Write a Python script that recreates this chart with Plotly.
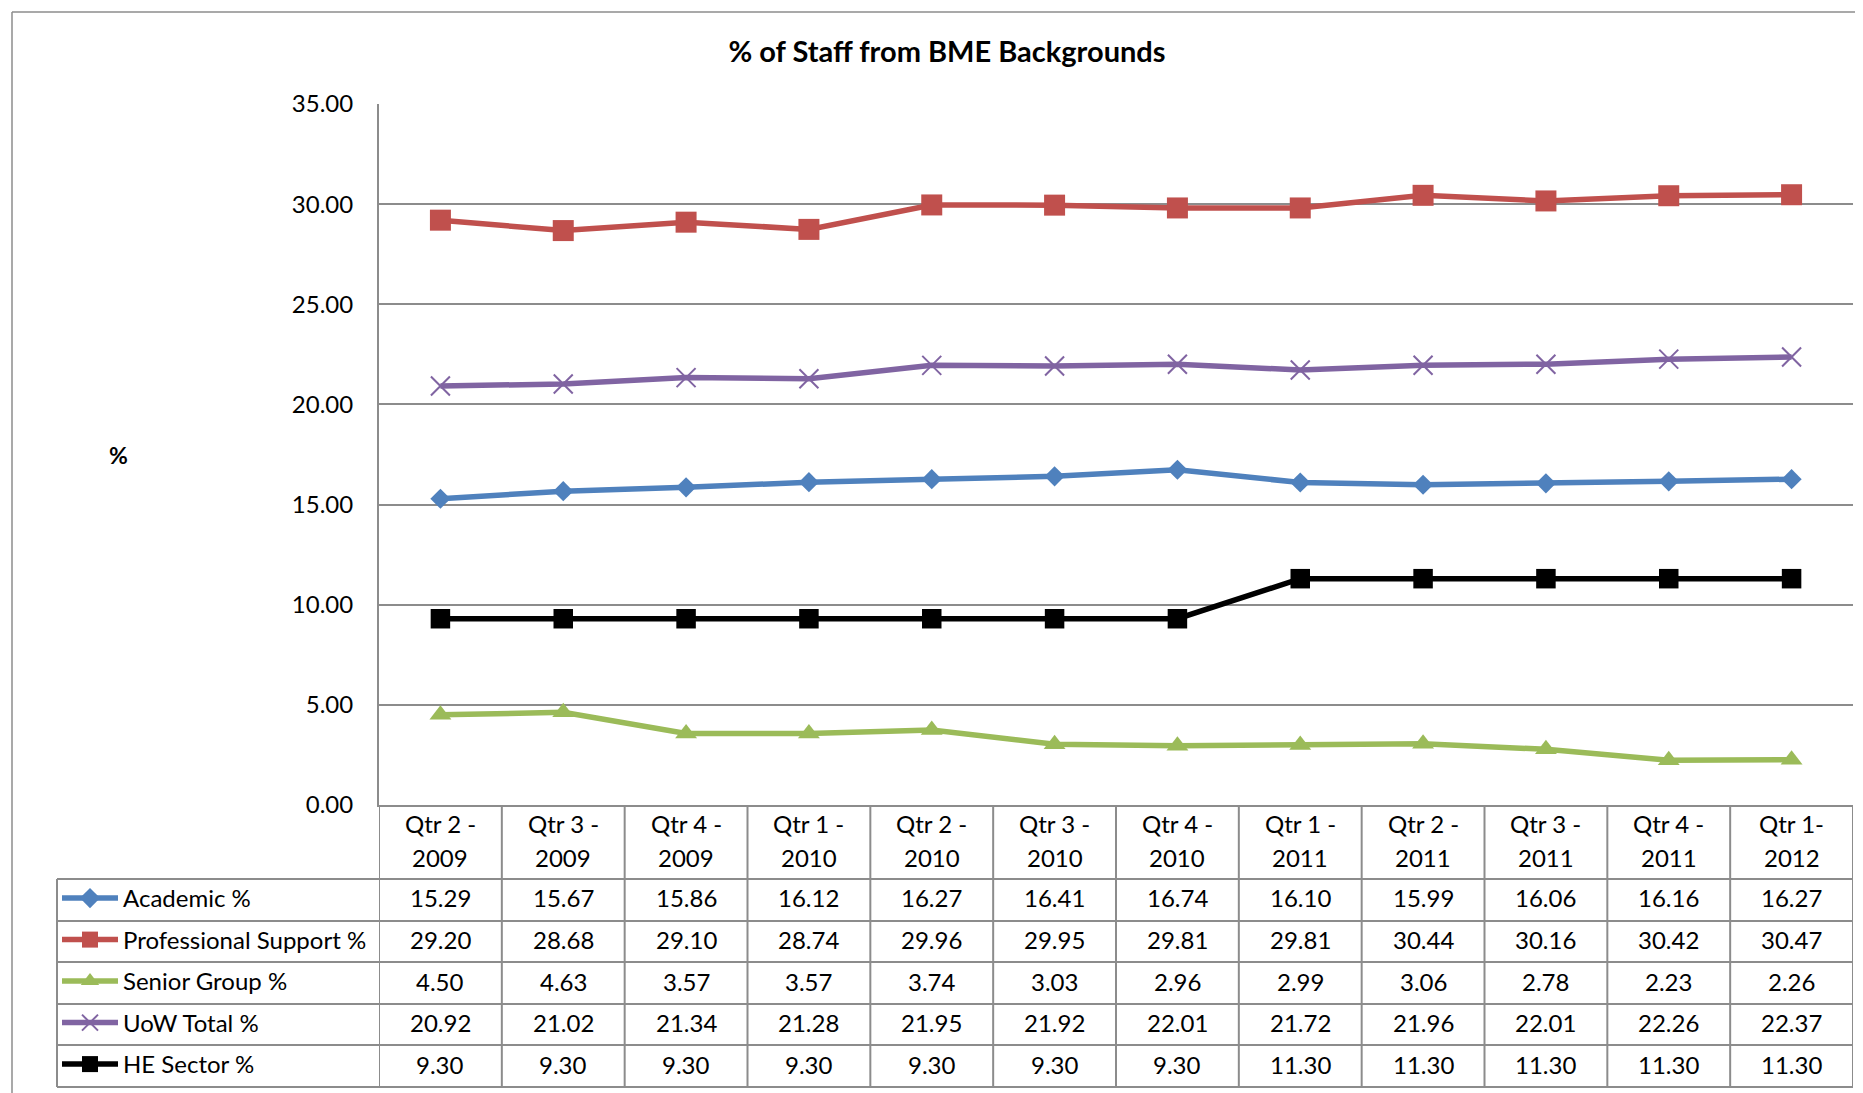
import plotly.graph_objects as go

quarters = ["Qtr 2 -", "Qtr 3 -", "Qtr 4 -", "Qtr 1 -", "Qtr 2 -", "Qtr 3 -",
            "Qtr 4 -", "Qtr 1 -", "Qtr 2 -", "Qtr 3 -", "Qtr 4 -", "Qtr 1-"]
years = ["2009", "2009", "2009", "2010", "2010", "2010",
         "2010", "2011", "2011", "2011", "2011", "2012"]
categories = [f"{q} {y}" for q, y in zip(quarters, years)]

academic = [15.29, 15.67, 15.86, 16.12, 16.27, 16.41, 16.74, 16.10, 15.99, 16.06, 16.16, 16.27]
prof_support = [29.20, 28.68, 29.10, 28.74, 29.96, 29.95, 29.81, 29.81, 30.44, 30.16, 30.42, 30.47]
senior_group = [4.50, 4.63, 3.57, 3.57, 3.74, 3.03, 2.96, 2.99, 3.06, 2.78, 2.23, 2.26]
uow_total = [20.92, 21.02, 21.34, 21.28, 21.95, 21.92, 22.01, 21.72, 21.96, 22.01, 22.26, 22.37]
he_sector = [9.30, 9.30, 9.30, 9.30, 9.30, 9.30, 9.30, 11.30, 11.30, 11.30, 11.30, 11.30]

series_names = ["Academic %", "Professional Support %", "Senior Group %", "UoW Total %", "HE Sector %"]
series_values = [academic, prof_support, senior_group, uow_total, he_sector]

# Styling
STYLE = {
    "Academic %": dict(color="#4F81BD", symbol="diamond", size=15.5),
    "Professional Support %": dict(color="#C0504D", symbol="square", size=21),
    "Senior Group %": dict(color="#9BBB59", symbol="triangle-up", size=19),
    "UoW Total %": dict(color="#8064A2", symbol="x-thin", size=19),
    "HE Sector %": dict(color="#000000", symbol="square", size=19.5),
}
FONT = "Lato, 'Open Sans', sans-serif"
FS = 24
GRID = "#8C8C8C"

# Page geometry (pixels in the screenshot; the page body adds an 8px offset)
OFF = 8
W, H = 1863 - OFF, 1093 - OFF
L, R, T, B = 379 - OFF, 1853 - OFF, 104 - OFF, 805 - OFF
TABLE_LEFT = 57 - OFF
ROW_EDGES = [e - OFF for e in [879, 921, 962, 1004, 1045, 1087]]
TEXT_NUDGE = 2  # table text sits slightly above the row centre


def px(x):
    return (x - L) / (R - L)


def py(y):
    return (B - y) / (B - T)


fig = go.Figure()

for name, vals in zip(series_names, series_values):
    st = STYLE[name]
    marker = dict(color=st["color"], symbol=st["symbol"], size=st["size"])
    if st["symbol"] == "x-thin":
        marker["line"] = dict(color=st["color"], width=2)
    fig.add_trace(go.Scatter(
        x=categories, y=vals, name=name, mode="lines+markers",
        line=dict(color=st["color"], width=5.5),
        marker=marker, legendgroup=name, cliponaxis=False,
    ))

shapes = []
annotations = []

# chart outer border (left and top edges)
shapes.append(dict(type="line", xref="paper", yref="paper",
                   x0=px(12 - OFF), x1=px(12 - OFF), y0=py(12 - OFF), y1=py(H + 5),
                   line=dict(color=GRID, width=1.5)))
shapes.append(dict(type="line", xref="paper", yref="paper",
                   x0=px(12 - OFF), x1=px(W + 5), y0=py(12 - OFF), y1=py(12 - OFF),
                   line=dict(color=GRID, width=1.5)))

# data table: vertical column lines
for i in range(len(categories) + 1):
    shapes.append(dict(type="line", xref="x", yref="paper",
                       x0=i - 0.5, x1=i - 0.5, y0=py(B), y1=py(ROW_EDGES[-1]),
                       line=dict(color=GRID, width=2)))
# legend column left edge
shapes.append(dict(type="line", xref="paper", yref="paper",
                   x0=px(TABLE_LEFT), x1=px(TABLE_LEFT),
                   y0=py(ROW_EDGES[0]), y1=py(ROW_EDGES[-1]),
                   line=dict(color=GRID, width=2)))
# horizontal row lines
for y in ROW_EDGES:
    shapes.append(dict(type="line", xref="paper", yref="paper",
                       x0=px(TABLE_LEFT), x1=1, y0=py(y), y1=py(y),
                       line=dict(color=GRID, width=2)))

# header row: category labels in two lines
for c, q, yr in zip(categories, quarters, years):
    annotations.append(dict(x=c, xref="x", y=py(823 - OFF), yref="paper", text=q,
                            showarrow=False, xanchor="center", yanchor="middle",
                            font=dict(family=FONT, size=FS, color="black")))
    annotations.append(dict(x=c, xref="x", y=py(857 - OFF), yref="paper", text=yr,
                            showarrow=False, xanchor="center", yanchor="middle",
                            font=dict(family=FONT, size=FS, color="black")))

# table values
for r, vals in enumerate(series_values):
    yc = (ROW_EDGES[r] + ROW_EDGES[r + 1]) / 2 - TEXT_NUDGE
    for c, v in zip(categories, vals):
        annotations.append(dict(x=c, xref="x", y=py(yc), yref="paper",
                                text=f"{v:.2f}", showarrow=False,
                                xanchor="center", yanchor="middle",
                                font=dict(family=FONT, size=FS, color="black")))

# y axis title
annotations.append(dict(x=px(118 - OFF), y=py(455 - OFF), xref="paper", yref="paper",
                        text="<b>%</b>", showarrow=False, xanchor="center", yanchor="middle",
                        font=dict(family=FONT, size=23, color="black")))

fig.update_layout(
    width=W, height=H,
    margin=dict(l=L, r=W - R, t=T, b=H - B, autoexpand=False),
    paper_bgcolor="white", plot_bgcolor="white",
    font=dict(family=FONT, size=FS, color="black"),
    title=dict(text="<b>% of Staff from BME Backgrounds</b>", x=px(947 - OFF), xref="paper",
               xanchor="center", y=1 - (52 - OFF) / H, yanchor="middle",
               font=dict(family=FONT, size=29, color="black")),
    xaxis=dict(type="category", categoryarray=categories, range=[-0.5, len(categories) - 0.5],
               showticklabels=False, showgrid=False, zeroline=False,
               showline=True, linecolor=GRID, linewidth=2),
    yaxis=dict(range=[0, 35], dtick=5, tickformat=".2f", showgrid=True, gridcolor=GRID,
               gridwidth=1.5, zeroline=False, showline=True, linecolor=GRID, linewidth=2,
               ticks="", ticklabelstandoff=19, tickfont=dict(family=FONT, size=FS, color="black")),
    showlegend=True,
    legend=dict(x=px(TABLE_LEFT), xanchor="left", y=py(876 - OFF), yanchor="top",
                orientation="v", traceorder="grouped", tracegroupgap=7.3,
                itemwidth=56, bgcolor="rgba(0,0,0,0)", borderwidth=0,
                font=dict(family=FONT, size=FS, color="black")),
    shapes=shapes,
    annotations=annotations,
)

fig.write_html("out.html")
